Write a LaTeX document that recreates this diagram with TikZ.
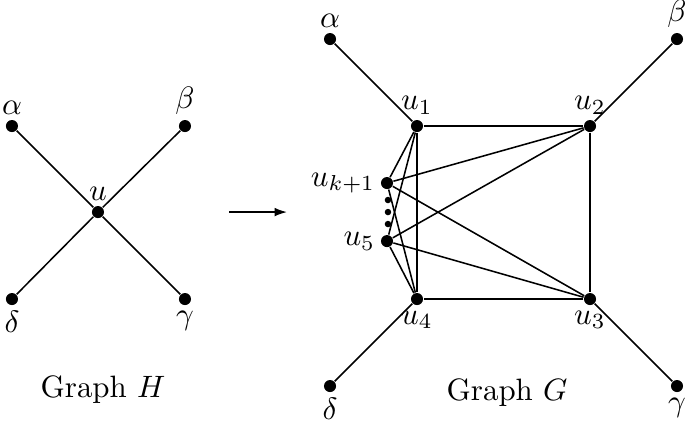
\documentclass[tikz,border=0pt]{standalone}
\usepackage{amsmath}
\usepackage{tikz}
\usetikzlibrary{positioning,arrows.meta}
\tikzset{
  vtx/.style={circle,fill=black,inner sep=0pt,minimum size=3.9pt},
  smalldot/.style={circle,fill=black,inner sep=0pt,minimum size=2.1pt},
  lbl/.style={inner sep=1.5pt},
  edge/.style={line width=0.5pt,draw=black},
  maparrow/.style={line width=0.5pt,-{Latex[length=4pt,width=2.8pt]}},
  capnode/.style={font=\normalsize,inner sep=0pt},
}
\begin{document}
\begin{tikzpicture}
  \useasboundingbox (0,0) rectangle (7.788,4.810);
  % graph H
  \node[vtx,label={[lbl]above:$\alpha$}] (ha) at (0.136,3.377) {};
  \node[vtx,label={[lbl]above:$\beta$}] (hb) at (2.103,3.377) {};
  \node[vtx,label={[lbl]below:$\gamma$}] (hg) at (2.103,1.410) {};
  \node[vtx,label={[lbl]below:$\delta$}] (hd) at (0.136,1.410) {};
  \node[vtx,label={[lbl]above:$u$}] (hu) at (1.114,2.399) {};
  \draw[edge] (ha) -- (hu) -- (hg);
  \draw[edge] (hb) -- (hu) -- (hd);
  \node[capnode] (capH) at (1.171,0.375) {Graph $H$};
  % arrow
  \coordinate (arrS) at (2.604,2.399);
  \coordinate (arrE) at (3.263,2.399);
  \draw[maparrow] (arrS) -- (arrE);
  % graph G
  \node[vtx,label={[lbl]above:$\alpha$}] (ga) at (3.752,4.366) {};
  \node[vtx,label={[lbl]above:$\beta$}] (gb) at (7.697,4.366) {};
  \node[vtx,label={[lbl]below:$\gamma$}] (gg) at (7.697,0.421) {};
  \node[vtx,label={[lbl]below:$\delta$}] (gd) at (3.752,0.421) {};
  \node[vtx,label={[lbl]above:$u_1$}] (u1) at (4.741,3.377) {};
  \node[vtx,label={[lbl]above:$u_2$}] (u2) at (6.708,3.377) {};
  \node[vtx,label={[lbl]below:$u_3$}] (u3) at (6.708,1.410) {};
  \node[vtx,label={[lbl]below:$u_4$}] (u4) at (4.741,1.410) {};
  \node[vtx,label={[lbl]left:$u_{k+1}$}] (uk) at (4.400,2.729) {};
  \node[vtx,label={[lbl]left:$u_5$}] (u5) at (4.400,2.069) {};
  \node[smalldot] (d1) at (4.411,2.536) {};
  \node[smalldot] (d2) at (4.411,2.399) {};
  \node[smalldot] (d3) at (4.411,2.263) {};
  \draw[edge] (ga) -- (u1);
  \draw[edge] (gb) -- (u2);
  \draw[edge] (gg) -- (u3);
  \draw[edge] (gd) -- (u4);
  \draw[edge] (u1) -- (u2) -- (u3) -- (u4) -- (u1);
  \draw[edge] (uk) -- (u1);
  \draw[edge] (uk) -- (u2);
  \draw[edge] (uk) -- (u3);
  \draw[edge] (uk) -- (u4);
  \draw[edge] (u5) -- (u1);
  \draw[edge] (u5) -- (u2);
  \draw[edge] (u5) -- (u3);
  \draw[edge] (u5) -- (u4);
  \node[capnode] (capG) at (5.765,0.352) {Graph $G$};
\end{tikzpicture}
\end{document}
